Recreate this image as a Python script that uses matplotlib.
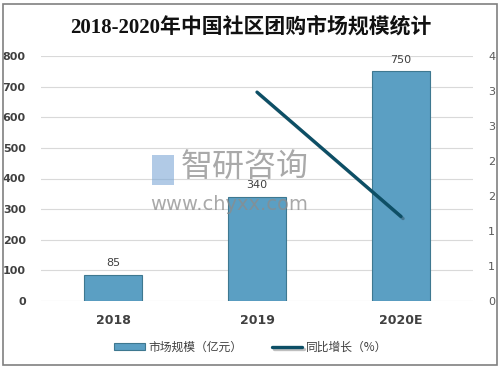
import matplotlib
matplotlib.use('Agg')
import matplotlib.pyplot as plt
import matplotlib.patheffects as pe
from matplotlib.patches import Rectangle
from matplotlib.ticker import FuncFormatter
import numpy as np

plt.rcParams['font.family'] = ['Noto Sans CJK SC', 'DejaVu Sans']
plt.rcParams['axes.unicode_minus'] = False

# ── Data ──
years = ['2018', '2019', '2020E']
market_size = [85, 340, 750]          # 亿元
growth_years = ['2019', '2020E']
growth = [3.41, 1.38]                 # 同比增长 (right axis)

BAR = '#5B9FC3'
BAR_EDGE = '#3E7890'
LINE = '#0D4F66'
TXT = '#404040'
GRID = '#D9D9D9'

fig = plt.figure(figsize=(5.01, 3.69), dpi=100)
fig.patches.append(Rectangle((0.006, 0.012), 0.986, 0.978, transform=fig.transFigure,
                             fill=False, edgecolor='#808080', linewidth=1.2))

ax = fig.add_axes([41/501, 1 - 301/369, 432/501, 245/369])
x = np.arange(len(years))
bars = ax.bar(x, market_size, width=0.4, color=BAR, edgecolor=BAR_EDGE, linewidth=0.8,
              zorder=3, label='市场规模（亿元）')
for xi, v in zip(x, market_size):
    ax.text(xi, v + 22, f'{v}', ha='center', va='bottom', fontsize=8, color=TXT,
            family=['DejaVu Sans'], zorder=5)

ax.set_xlim(-0.5, len(years) - 0.5)
ax.set_ylim(0, 800)
ax.set_yticks(np.arange(0, 801, 100))
ax.grid(axis='y', color=GRID, linewidth=0.8, zorder=0)
ax.set_axisbelow(True)
for s in ax.spines.values():
    s.set_visible(False)
ax.tick_params(axis='both', length=0)
ax.tick_params(axis='y', pad=11, labelsize=8, labelcolor=TXT)
ax.set_xticks(x)
ax.set_xticklabels(years, fontsize=9, fontweight='bold', color=TXT, family=['DejaVu Sans'])
ax.tick_params(axis='x', pad=9)
for lab in ax.get_yticklabels():
    lab.set_fontweight('bold')
    lab.set_family(['DejaVu Sans'])

ax2 = ax.twinx()
gx = [years.index(y) for y in growth_years]
ax2.plot(gx, growth, color=LINE, linewidth=2.4, solid_capstyle='round', zorder=4,
         label='同比增长（%）',
         path_effects=[pe.SimpleLineShadow(offset=(1.5, -1.5), alpha=0.25), pe.Normal()])
ax2.set_ylim(0, 4)
ax2.set_yticks(np.linspace(0, 4, 8))
ax2.yaxis.set_major_formatter(FuncFormatter(lambda v, p: f'{int(np.floor(v + 0.5))}'))
ax2.tick_params(axis='y', length=0, pad=11, labelsize=8, labelcolor='#595959')
for s in ax2.spines.values():
    s.set_visible(False)
for lab in ax2.get_yticklabels():
    lab.set_family(['DejaVu Sans'])

# watermark
fig.text(181/501, 1 - 167/369, '智研咨询', fontsize=23, color='#8C8C8C', alpha=0.75,
         va='center', ha='left')
fig.text(150/501, 1 - 204/369, 'www.chyxx.com', fontsize=14, color='#8C8C8C', alpha=0.75,
         va='center', ha='left', family=['DejaVu Sans'])
fig.patches.append(Rectangle((152/501, 1 - 185/369), 22/501, 30/369, transform=fig.transFigure,
                             facecolor='#7DA7D6', alpha=0.6, edgecolor='none'))

fig.text(0.5, 1 - 27/369, '2018-2020年中国社区团购市场规模统计', ha='center', va='center',
         fontsize=15, fontweight='bold', color='#111111',
         family=['Liberation Serif', 'Noto Sans CJK SC'])

h1, l1 = ax.get_legend_handles_labels()
h2, l2 = ax2.get_legend_handles_labels()
fig.legend(h1 + h2, l1 + l2, loc='center', bbox_to_anchor=(0.5, 1 - 347/369), ncol=2,
           frameon=False, fontsize=8.5, labelcolor=TXT, handlelength=2.6, handleheight=0.5,
           handletextpad=0.3, columnspacing=2.5)

fig.savefig('out.png', dpi=100, facecolor='white')
